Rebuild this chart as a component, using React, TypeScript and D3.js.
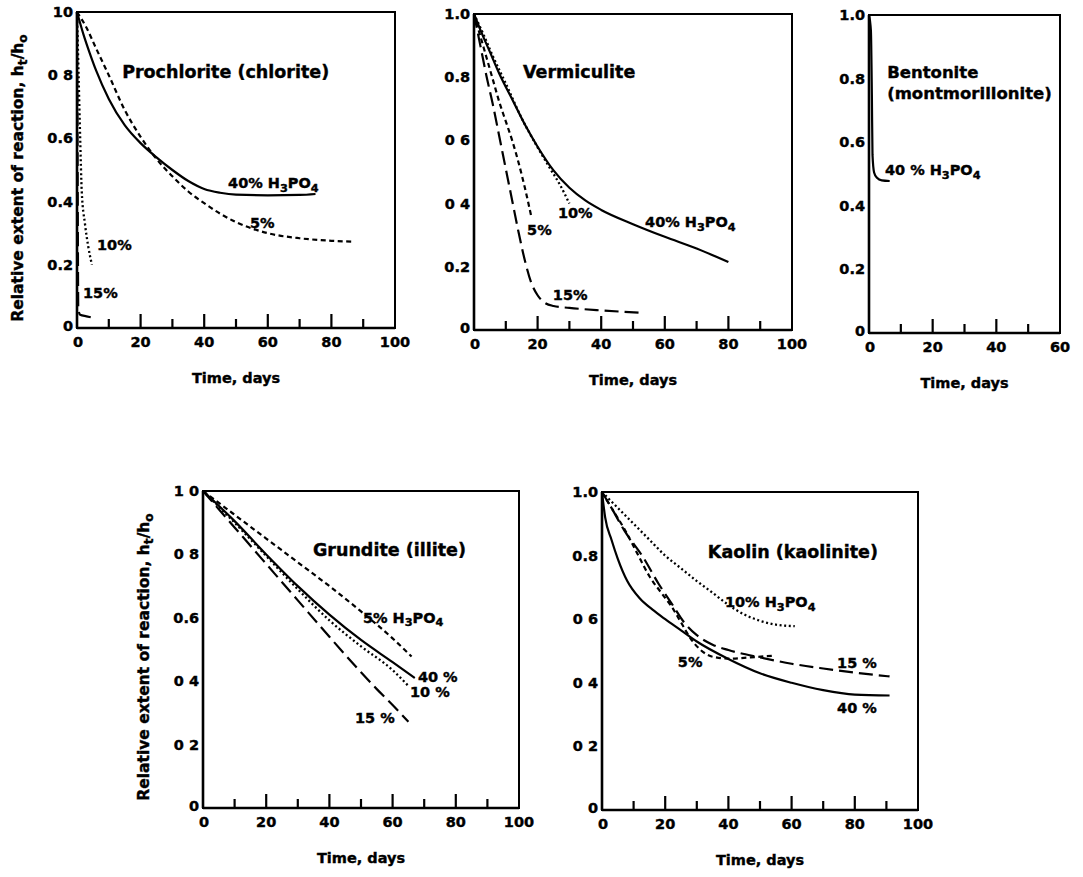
import React from "react";
import * as d3 from "d3";

type Pt = [number, number];

const FONT = "'DejaVu Sans', 'Liberation Sans', sans-serif";

// ---------- data (time in days, relative extent h_t/h_0) ----------
// Prochlorite (chlorite)
const prochlorite40: Pt[] = [[0, 1.0], [2, 0.93], [4, 0.87], [6, 0.815], [10, 0.725], [15, 0.642], [20, 0.585], [25, 0.54], [30, 0.5], [35, 0.465], [40, 0.44], [45, 0.428], [50, 0.422], [60, 0.42], [70, 0.421], [75, 0.424]];
const prochlorite5: Pt[] = [[0, 1.0], [3, 0.95], [6, 0.885], [10, 0.8], [15, 0.69], [20, 0.605], [25, 0.535], [30, 0.48], [35, 0.432], [40, 0.395], [45, 0.362], [50, 0.335], [55, 0.315], [60, 0.3], [70, 0.284], [80, 0.276], [87, 0.273]];
const prochlorite10: Pt[] = [[0, 1.0], [0.5, 0.8], [1, 0.6], [1.5, 0.43], [2.5, 0.33], [3.5, 0.26], [4.7, 0.2]];
const prochlorite15: Pt[] = [[0, 1.0], [0.2, 0.5], [0.4, 0.06], [1, 0.042], [3, 0.037], [6, 0.03]];

// Vermiculite
const vermiculite40: Pt[] = [[0, 1.0], [2, 0.95], [5, 0.88], [8, 0.81], [12, 0.73], [16, 0.65], [20, 0.58], [25, 0.505], [30, 0.45], [35, 0.41], [40, 0.38], [50, 0.335], [60, 0.295], [70, 0.258], [80, 0.215]];
const vermiculite10: Pt[] = [[0, 1.0], [3, 0.935], [6, 0.865], [10, 0.78], [15, 0.67], [20, 0.578], [24, 0.51], [27, 0.46], [30, 0.4]];
const vermiculite5: Pt[] = [[0, 1.0], [2, 0.93], [4, 0.86], [6, 0.79], [8, 0.72], [10, 0.66], [12, 0.6], [14, 0.53], [16, 0.45], [18, 0.36]];
const vermiculite15: Pt[] = [[0, 1.0], [2, 0.9], [4, 0.8], [6, 0.71], [8, 0.61], [10, 0.51], [12, 0.41], [14, 0.31], [16, 0.22], [18, 0.15], [20, 0.11], [22, 0.088], [25, 0.076], [30, 0.07], [40, 0.062], [52, 0.055]];

// Bentonite (montmorillonite)
const bentonite40: Pt[] = [[0, 1.0], [0.6, 0.95], [0.9, 0.75], [1.1, 0.56], [1.6, 0.505], [2.5, 0.488], [4, 0.48], [6.5, 0.478]];

// Grundite (illite)
const grundite5: Pt[] = [[0, 1.0], [10, 0.925], [20, 0.85], [30, 0.775], [40, 0.7], [50, 0.62], [60, 0.535], [66, 0.478]];
const grundite40: Pt[] = [[0, 1.0], [10, 0.905], [20, 0.8], [30, 0.7], [40, 0.61], [50, 0.53], [60, 0.46], [67, 0.41]];
const grundite10: Pt[] = [[0, 1.0], [10, 0.9], [20, 0.795], [30, 0.69], [40, 0.592], [50, 0.51], [60, 0.435], [65, 0.385]];
const grundite15: Pt[] = [[0, 1.0], [10, 0.885], [20, 0.77], [30, 0.655], [40, 0.54], [50, 0.428], [55, 0.375], [60, 0.325], [65, 0.272]];

// Kaolin (kaolinite)
const kaolin40: Pt[] = [[0, 1.0], [1, 0.92], [3, 0.85], [5, 0.79], [8, 0.72], [12, 0.665], [16, 0.63], [20, 0.6], [25, 0.565], [30, 0.53], [40, 0.475], [50, 0.43], [60, 0.4], [70, 0.377], [80, 0.363], [91, 0.36]];
const kaolin15: Pt[] = [[0, 1.0], [3, 0.95], [7, 0.88], [13, 0.795], [18, 0.71], [22, 0.65], [26, 0.59], [30, 0.55], [35, 0.52], [40, 0.503], [50, 0.48], [60, 0.46], [70, 0.445], [80, 0.432], [91, 0.42]];
const kaolin5: Pt[] = [[0, 1.0], [3, 0.95], [7, 0.885], [11, 0.81], [15, 0.735], [19, 0.68], [22, 0.64], [25, 0.59], [28, 0.54], [31, 0.505], [35, 0.482], [40, 0.476], [47, 0.48], [54, 0.485]];
const kaolin10: Pt[] = [[0, 1.0], [5, 0.95], [10, 0.9], [15, 0.85], [20, 0.8], [25, 0.76], [30, 0.72], [35, 0.683], [40, 0.645], [45, 0.615], [50, 0.595], [55, 0.583], [61, 0.578]];

// tick labels (as printed)
const xTicks100 = [0, 20, 40, 60, 80, 100];
const xTicks60 = [0, 20, 40, 60];
const yTickValues = [0, 0.2, 0.4, 0.6, 0.8, 1.0];
const yLabelsProchlorite = ["0", "0.2", "0.4", "0.6", "0 8", "10"];
const yLabelsVermiculite = ["0", "0.2", "0 4", "0 6", "0.8", "1.0"];
const yLabelsBentonite = ["0", "0.2", "0.4", "0.6", "0.8", "1.0"];
const yLabelsGrundite = ["0", "0 2", "0 4", "0.6", "0 8", "1 0"];
const yLabelsKaolin = ["0", "0 2", "0 4", "0 6", "0.8", "1.0"];

// ---------- styles ----------
type Conc = "40" | "5" | "10" | "15";
const dashFor: Record<Conc, string | undefined> = {
  "40": undefined,
  "5": "5 3.5",
  "10": "2 2.6",
  "15": "14 6",
};

interface Series { conc: Conc; data: Pt[] }
interface Note { t: number; v: number; text: string; size?: number }
interface PanelCfg {
  left: number; top: number; width: number; height: number; xMax: number;
  xTicks: number[]; yLabels: string[];
  series: Series[]; notes: Note[]; titles: Note[];
  yTitle?: { cx: number; cy: number };
}

const panels: PanelCfg[] = [
  {
    left: 77, top: 12, width: 318, height: 316, xMax: 100, xTicks: xTicks100, yLabels: yLabelsProchlorite,
    series: [
      { conc: "40", data: prochlorite40 }, { conc: "5", data: prochlorite5 },
      { conc: "10", data: prochlorite10 }, { conc: "15", data: prochlorite15 },
    ],
    titles: [{ t: 14.2, v: 0.81, text: "Prochlorite (chlorite)" }],
    notes: [
      { t: 47.5, v: 0.459, text: "40% H_3PO_4" }, { t: 54.4, v: 0.332, text: "5%" },
      { t: 6.3, v: 0.263, text: "10%" }, { t: 1.9, v: 0.111, text: "15%" },
    ],
    yTitle: { cx: 18, cy: 178 },
  },
  {
    left: 474, top: 14, width: 318, height: 316, xMax: 100, xTicks: xTicks100, yLabels: yLabelsVermiculite,
    series: [
      { conc: "40", data: vermiculite40 }, { conc: "10", data: vermiculite10 },
      { conc: "5", data: vermiculite5 }, { conc: "15", data: vermiculite15 },
    ],
    titles: [{ t: 15.4, v: 0.816, text: "Vermiculite" }],
    notes: [
      { t: 26.4, v: 0.37, text: "10%" }, { t: 16.7, v: 0.316, text: "5%" },
      { t: 24.8, v: 0.111, text: "15%" }, { t: 53.8, v: 0.342, text: "40% H_3PO_4" },
    ],
  },
  {
    left: 869, top: 15, width: 191, height: 318, xMax: 60, xTicks: xTicks60, yLabels: yLabelsBentonite,
    series: [{ conc: "40", data: bentonite40 }],
    titles: [
      { t: 5.7, v: 0.82, text: "Bentonite", size: 16.5 },
      { t: 5.7, v: 0.755, text: "(montmorillonite)", size: 16.5 },
    ],
    notes: [{ t: 5.0, v: 0.513, text: "40 % H_3PO_4" }],
  },
  {
    left: 203, top: 491, width: 316, height: 317, xMax: 100, xTicks: xTicks100, yLabels: yLabelsGrundite,
    series: [
      { conc: "5", data: grundite5 }, { conc: "40", data: grundite40 },
      { conc: "10", data: grundite10 }, { conc: "15", data: grundite15 },
    ],
    titles: [{ t: 34.8, v: 0.814, text: "Grundite (illite)" }],
    notes: [
      { t: 50.6, v: 0.6, text: "5% H_3PO_4" }, { t: 68, v: 0.413, text: "40 %" },
      { t: 65.5, v: 0.366, text: "10 %" }, { t: 48.1, v: 0.284, text: "15 %" },
    ],
    yTitle: { cx: 144, cy: 657 },
  },
  {
    left: 602, top: 492, width: 316, height: 318, xMax: 100, xTicks: xTicks100, yLabels: yLabelsKaolin,
    series: [
      { conc: "40", data: kaolin40 }, { conc: "15", data: kaolin15 },
      { conc: "5", data: kaolin5 }, { conc: "10", data: kaolin10 },
    ],
    titles: [{ t: 33.5, v: 0.811, text: "Kaolin (kaolinite)" }],
    notes: [
      { t: 38.9, v: 0.654, text: "10% H_3PO_4" }, { t: 24, v: 0.465, text: "5%" },
      { t: 74.4, v: 0.462, text: "15 %" }, { t: 74.4, v: 0.321, text: "40 %" },
    ],
  },
];

// ---------- helpers ----------
function RichText(props: { x: number; y: number; text: string; size: number; anchor?: string; transform?: string }) {
  const { x, y, text, size, anchor = "start", transform } = props;
  const parts = text.split(/(_.)/).filter((p) => p.length > 0);
  const shift = size * 0.32;
  let inSub = false;
  const spans = parts.map((p, i) => {
    if (p.startsWith("_") && p.length === 2) {
      inSub = true;
      return (
        <tspan key={i} dy={shift} fontSize={size * 0.78}>
          {p[1]}
        </tspan>
      );
    }
    const dy = inSub ? -shift : 0;
    inSub = false;
    return (
      <tspan key={i} dy={dy}>
        {p}
      </tspan>
    );
  });
  return (
    <text
      x={x}
      y={y}
      fontSize={size}
      fontFamily={FONT}
      fontWeight="bold"
      textAnchor={anchor}
      dominantBaseline="central"
      transform={transform}
      fill="#000"
      stroke="#000"
      strokeWidth={0.4}
    >
      {spans}
    </text>
  );
}

function Panel({ cfg }: { cfg: PanelCfg }) {
  const x = d3.scaleLinear().domain([0, cfg.xMax]).range([cfg.left, cfg.left + cfg.width]);
  const y = d3.scaleLinear().domain([0, 1]).range([cfg.top + cfg.height, cfg.top]);
  const line = d3
    .line<Pt>()
    .x((d) => x(d[0]))
    .y((d) => y(d[1]))
    .curve(d3.curveMonotoneX);
  const bottom = cfg.top + cfg.height;
  const minorTicks = d3.range(10, cfg.xMax, 10);
  const tickText = { fontSize: 14.5, fontFamily: FONT, fontWeight: "bold", stroke: "#000", strokeWidth: 0.4 } as const;

  return (
    <g>
      {/* frame */}
      <rect x={cfg.left} y={cfg.top} width={cfg.width} height={cfg.height} fill="none" stroke="#000" strokeWidth={2} />
      <line x1={cfg.left} x2={cfg.left} y1={cfg.top} y2={bottom} stroke="#000" strokeWidth={2.6} />
      <line x1={cfg.left} x2={cfg.left + cfg.width} y1={bottom} y2={bottom} stroke="#000" strokeWidth={2.6} />
      {/* x ticks */}
      {minorTicks.map((t) => (
        <line key={t} x1={x(t)} x2={x(t)} y1={bottom} y2={bottom - (t % 20 === 0 ? 14 : 9)} stroke="#000" strokeWidth={2.2} />
      ))}
      {cfg.xTicks.map((t) => (
        <text key={t} x={x(t) + (t === 0 ? 1 : 0)} y={bottom + 14} textAnchor="middle" dominantBaseline="central" {...tickText}>
          {String(t)}
        </text>
      ))}
      {/* y labels */}
      {yTickValues.map((v, i) => (
        <text key={v} x={cfg.left - 4} y={y(v) - (v === 0 ? 2 : 0)} textAnchor="end" dominantBaseline="central" {...tickText}>
          {cfg.yLabels[i]}
        </text>
      ))}
      {/* curves */}
      {cfg.series.map((s, i) => (
        <path
          key={i}
          d={line(s.data) || ""}
          fill="none"
          stroke="#000"
          strokeWidth={s.conc === "10" ? 2.3 : 2.2}
          strokeDasharray={dashFor[s.conc]}
        />
      ))}
      {/* titles and notes */}
      {cfg.titles.map((n, i) => (
        <RichText key={"t" + i} x={x(n.t)} y={y(n.v)} text={n.text} size={n.size ?? 17.5} />
      ))}
      {cfg.notes.map((n, i) => (
        <RichText key={"n" + i} x={x(n.t)} y={y(n.v)} text={n.text} size={n.size ?? 14.5} />
      ))}
      {/* axis titles */}
      <RichText x={(cfg.left + cfg.left + cfg.width) / 2} y={bottom + 50} text="Time, days" size={14.5} anchor="middle" />
      {cfg.yTitle && (
        <RichText
          x={cfg.yTitle.cx}
          y={cfg.yTitle.cy}
          text="Relative extent of reaction, h_t/h_o"
          size={15.5}
          anchor="middle"
          transform={`rotate(-90 ${cfg.yTitle.cx} ${cfg.yTitle.cy})`}
        />
      )}
    </g>
  );
}

export default function App() {
  return (
    <svg
      width={1083}
      height={877}
      viewBox="0 0 1083 877"
      style={{ position: "absolute", left: 0, top: 0, background: "#fff" }}
    >
      <rect x={0} y={0} width={1083} height={877} fill="#fff" />
      {panels.map((p, i) => (
        <Panel key={i} cfg={p} />
      ))}
    </svg>
  );
}
